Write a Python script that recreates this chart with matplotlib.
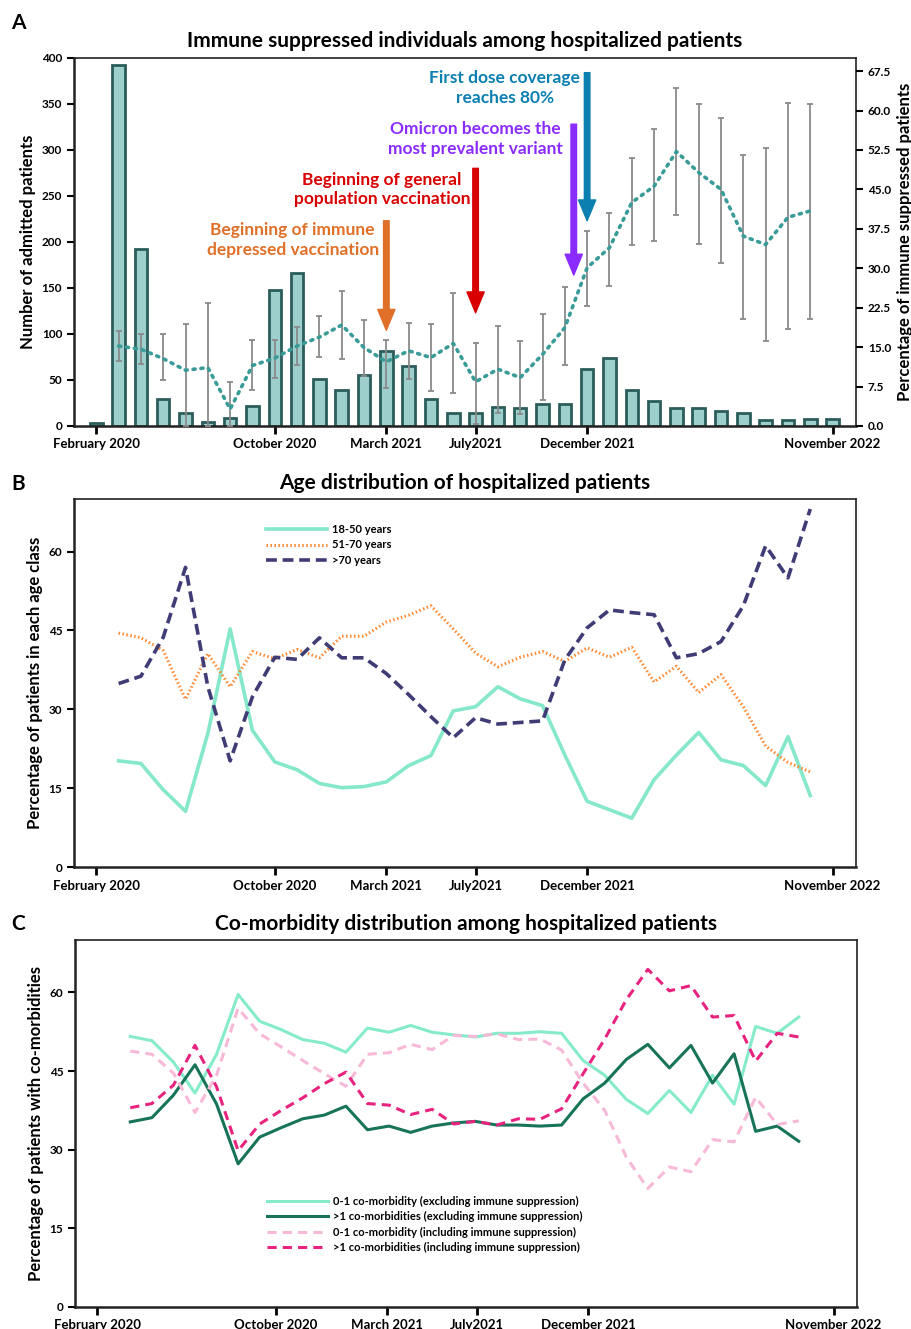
import numpy as np
import matplotlib.pyplot as plt

plt.rcParams['font.family'] = ['Lato', 'DejaVu Sans']

# months since February 2020
months = np.arange(0, 34)
tick_pos = [0, 8, 13, 17, 22, 33]
tick_labels = ['February 2020', 'October 2020', 'March 2021', 'July2021',
               'December 2021', 'November 2022']

# Panel A: admitted patients (bars) and % immune suppressed (line + error bars)
admitted = [3, 392, 192, 29, 14, 4, 9, 22, 148, 166, 51, 39, 55, 81, 65, 29, 14,
            14, 21, 20, 24, 24, 62, 74, 39, 27, 19, 19, 16, 14, 6, 6, 8, 8]
pct_months = np.arange(1, 33)
pct_immune = [15.2, 14.6, 12.8, 10.6, 11.1, 3.2, 11.5, 12.9, 15.2, 16.9, 19.2, 14.9,
              12.2, 14.3, 13.0, 15.7, 8.4, 10.8, 9.2, 13.6, 18.7, 30.1, 33.9, 42.5,
              45.6, 52.2, 48.2, 45.0, 36.1, 34.5, 39.7, 40.9]
pct_hi = [18.1, 17.4, 17.4, 19.3, 23.3, 8.4, 16.3, 16.3, 18.9, 21.0, 25.6, 20.1,
          16.3, 19.5, 19.3, 25.2, 15.8, 19.0, 16.1, 21.2, 26.5, 37.1, 40.6, 51.0,
          56.4, 64.3, 61.3, 58.6, 51.6, 52.8, 61.5, 61.3]
pct_lo = [12.3, 11.7, 8.7, 0.0, 0.0, 0.0, 6.8, 9.1, 11.5, 13.2, 12.8, 9.5,
          7.3, 9.0, 6.7, 6.2, 0.3, 2.5, 2.2, 4.9, 11.6, 22.8, 26.6, 34.5,
          35.2, 40.1, 34.7, 30.9, 20.3, 16.2, 18.4, 20.4]

# Panel B: age classes (%)
age_18_50 = [20.2, 19.7, 14.7, 10.6, 25.4, 45.3, 26.0, 20.0, 18.5, 15.9, 15.1, 15.3,
             16.2, 19.3, 21.2, 29.7, 30.5, 34.3, 32.0, 30.7, 21.3, 12.5, 10.9, 9.3,
             16.6, 21.3, 25.6, 20.4, 19.3, 15.5, 24.8, 13.6]
age_51_70 = [44.5, 43.6, 41.2, 31.9, 40.6, 34.3, 41.0, 39.6, 41.4, 39.8, 43.9, 43.9,
             46.6, 47.9, 49.7, 45.3, 40.7, 38.1, 39.9, 41.0, 39.1, 41.7, 39.9, 41.8,
             35.2, 38.2, 33.2, 36.6, 30.5, 23.0, 19.9, 18.1]
age_70 = [34.9, 36.3, 43.7, 57.0, 34.3, 20.2, 32.4, 39.9, 39.5, 43.6, 39.8, 39.8,
          36.8, 32.8, 28.6, 24.6, 28.4, 27.2, 27.5, 27.8, 39.4, 45.5, 48.9, 48.4,
          48.0, 39.8, 40.6, 42.9, 49.7, 61.1, 55.0, 68.1]

# Panel C: co-morbidities (%)
c_x = np.linspace(1.48, 31.44, 32)
excl_01 = [51.6, 50.8, 46.7, 40.8, 48.2, 59.6, 54.5, 52.9, 51.0, 50.3, 48.6, 53.2,
           52.4, 53.7, 52.4, 51.9, 51.5, 52.2, 52.2, 52.5, 52.2, 47.0, 44.2, 39.6,
           36.9, 41.3, 37.1, 44.2, 38.7, 53.5, 52.2, 55.3]
excl_gt1 = [35.3, 36.1, 40.4, 46.2, 38.7, 27.3, 32.4, 34.2, 35.9, 36.6, 38.3, 33.8,
            34.5, 33.3, 34.5, 35.1, 35.4, 34.7, 34.7, 34.5, 34.7, 39.7, 42.7, 47.2,
            50.1, 45.6, 49.9, 42.7, 48.3, 33.5, 34.5, 31.6]
incl_01 = [48.8, 48.2, 44.6, 37.1, 44.2, 57.0, 52.1, 49.6, 47.0, 44.5, 42.1, 48.2,
           48.5, 50.1, 49.1, 51.8, 51.6, 52.1, 51.0, 51.1, 49.0, 42.7, 37.5, 28.6,
           22.6, 26.7, 25.8, 31.9, 31.5, 40.0, 34.8, 35.5]
incl_gt1 = [38.0, 38.8, 42.3, 49.9, 42.0, 29.8, 34.9, 37.5, 39.9, 42.6, 44.8, 38.8,
            38.5, 36.7, 37.7, 34.9, 35.4, 34.7, 35.9, 35.8, 37.8, 44.5, 51.1, 58.6,
            64.4, 60.3, 61.3, 55.3, 55.6, 46.9, 52.2, 51.5]

fig = plt.figure(figsize=(9.12, 13.29), dpi=100)


def style_axis(ax):
    ax.set_xlim(-1, 34.05)
    ax.set_xticks(tick_pos)
    ax.set_xticklabels(tick_labels, fontsize=9.5, fontweight='bold')
    ax.tick_params(axis='x', length=6, width=2, direction='out', pad=3)
    ax.tick_params(axis='y', length=5, width=1.5, labelsize=8.5)
    for lab in ax.get_yticklabels():
        lab.set_fontweight('bold')
    for s in ax.spines.values():
        s.set_linewidth(1.2)
        s.set_color('#222222')
    ax.spines['left'].set_linewidth(1.8)
    ax.spines['bottom'].set_linewidth(1.8)


# ---------------- Panel A ----------------
axA = fig.add_axes([0.0811, 0.6795, 0.8575, 0.2769])
axA.bar(months, admitted, width=0.56, color='#9dcfcc', edgecolor='#2b5d5b', linewidth=2)
axA.set_ylim(0, 400)
axA.set_yticks(np.arange(0, 401, 50))
style_axis(axA)
axA.set_ylabel('Number of admitted patients', fontsize=12, fontweight='bold')
axA.set_title('Immune suppressed individuals among hospitalized patients',
              fontsize=15, fontweight='bold', pad=8)

axA2 = axA.twinx()
yerr = [np.array(pct_immune) - np.array(pct_lo), np.array(pct_hi) - np.array(pct_immune)]
axA2.errorbar(pct_months, pct_immune, yerr=yerr, fmt='none', ecolor='#8a8a8a',
              elinewidth=1.3, capsize=2.5, capthick=1.3)
axA2.plot(pct_months, pct_immune, color='#3a9c98', lw=2.6, linestyle=(0, (0.6, 1.6)),
          dash_capstyle='round')
axA2.set_ylim(0, 70)
axA2.set_yticks(np.arange(0, 68, 7.5))
axA2.set_yticklabels([f'{v:.1f}' for v in np.arange(0, 68, 7.5)], fontsize=8.5,
                     fontweight='bold')
axA2.tick_params(axis='y', length=5, width=1.5)
axA2.set_ylabel('Percentage of immune suppressed patients', fontsize=12,
                fontweight='bold')
for s in axA2.spines.values():
    s.set_visible(False)

# annotation arrows
events = [
    (13, 223, 104, '#e07028', 'Beginning of immune\ndepressed vaccination', 8.8, 202),
    (17, 280, 123, '#d80000', 'Beginning of general\npopulation vaccination', 12.8, 257),
    (21.4, 328, 164, '#8a2cff', 'Omicron becomes the\nmost prevalent variant', 17.0, 312),
    (22, 384, 223, '#0a7fb0', 'First dose coverage\nreaches 80%', 18.3, 367),
]
for x, y0, y1, col, txt, tx, ty in events:
    axA.annotate('', xy=(x, y1), xytext=(x, y0),
                 arrowprops=dict(arrowstyle='simple,head_width=0.62,head_length=0.75,tail_width=0.2',
                                 color=col, mutation_scale=20, shrinkA=0, shrinkB=0))
    axA.text(tx, ty, txt, color=col, fontsize=12.5, fontweight='bold',
             ha='center', va='center', linespacing=1.3)

# ---------------- Panel B ----------------
axB = fig.add_axes([0.0811, 0.3476, 0.8575, 0.2769])
axB.plot(pct_months, age_18_50, color='#85e8cb', lw=2.6, label='18-50 years')
axB.plot(pct_months, age_51_70, color='#ff8a35', lw=2.2, linestyle=(0, (0.5, 0.8)),
         label='51-70 years')
axB.plot(pct_months, age_70, color='#3f3c76', lw=2.6, linestyle=(0, (3, 1.6)),
         label='>70 years')
axB.set_ylim(0, 70)
axB.set_yticks([0, 15, 30, 45, 60])
style_axis(axB)
axB.set_ylabel('Percentage of patients in each age class', fontsize=12,
               fontweight='bold')
axB.set_title('Age distribution of hospitalized patients', fontsize=15,
              fontweight='bold', pad=7)
axB.legend(loc='upper left', bbox_to_anchor=(0.233, 0.96), frameon=False,
           handlelength=5.5, handletextpad=0.4, labelspacing=0.42,
           prop={'weight': 'bold', 'size': 8})

# ---------------- Panel C ----------------
axC = fig.add_axes([0.0822, 0.0166, 0.8575, 0.2761])
axC.plot(c_x, excl_01, color='#85ebcb', lw=2.2,
         label='0-1 co-morbidity (excluding immune suppression)')
axC.plot(c_x, excl_gt1, color='#177459', lw=2.2,
         label='>1 co-morbidities (excluding immune suppression)')
axC.plot(c_x, incl_01, color='#f7b9d7', lw=2.2, linestyle=(0, (3, 2)),
         label='0-1 co-morbidity (including immune suppression)')
axC.plot(c_x, incl_gt1, color='#e8237f', lw=2.2, linestyle=(0, (3, 2)),
         label='>1 co-morbidities (including immune suppression)')
axC.set_ylim(0, 70)
axC.set_yticks([0, 15, 30, 45, 60])
style_axis(axC)
axC.set_ylabel('Percentage of patients with co-morbidities', fontsize=12,
               fontweight='bold')
axC.set_title('Co-morbidity distribution among hospitalized patients', fontsize=15,
              fontweight='bold', pad=7)
axC.legend(loc='upper left', bbox_to_anchor=(0.233, 0.33), frameon=False,
           handlelength=5.5, handletextpad=0.4, labelspacing=0.4,
           prop={'weight': 'bold', 'size': 8})

# panel letters
fig.text(0.012, 0.983, 'A', fontsize=15, fontweight='bold', va='center')
fig.text(0.012, 0.636, 'B', fontsize=15, fontweight='bold', va='center')
fig.text(0.012, 0.305, 'C', fontsize=15, fontweight='bold', va='center')

fig.savefig('out.png', dpi=100)
